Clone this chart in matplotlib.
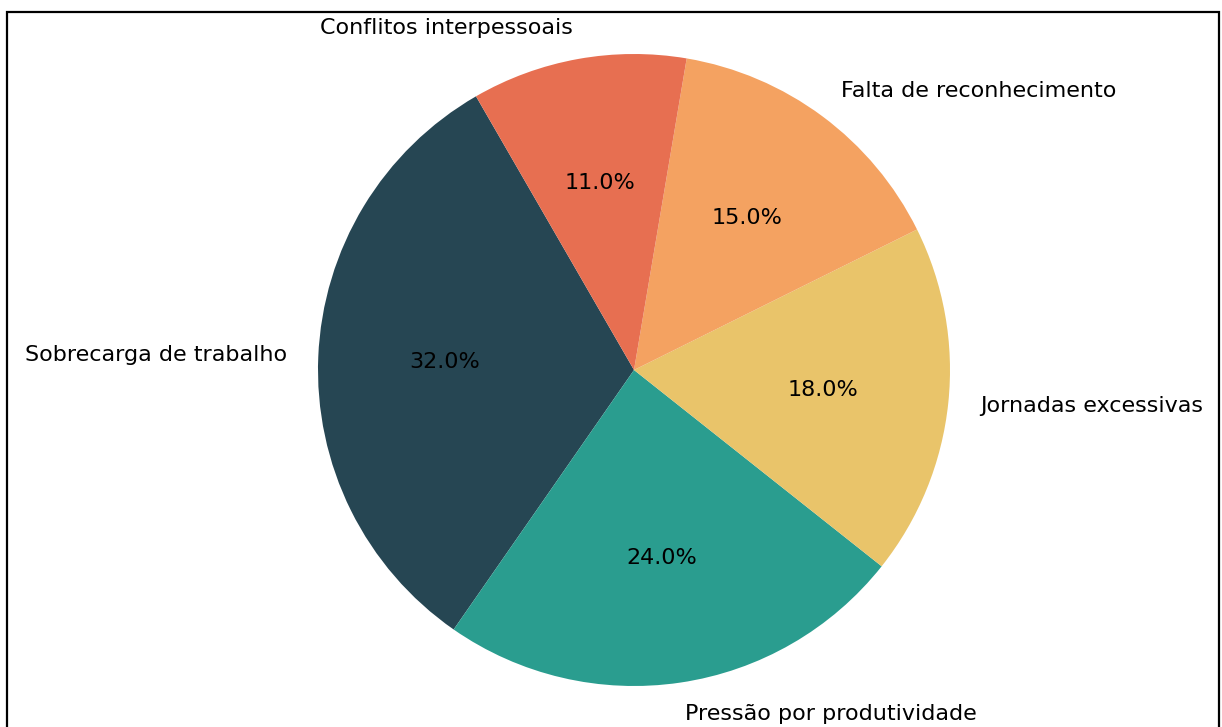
import matplotlib
matplotlib.use("Agg")
import matplotlib.pyplot as plt
from matplotlib.patches import Rectangle

labels = ["Sobrecarga de trabalho", "Pressão por produtividade", "Jornadas excessivas",
          "Falta de reconhecimento", "Conflitos interpessoais"]
shares = [32, 24, 18, 15, 11]
colors = ["#264653", "#2a9d8f", "#e9c46a", "#f4a261", "#e76f51"]

fig = plt.figure(figsize=(12.22, 7.27), dpi=100)
# pie centre ~ (634, 370) px, radius ~316 px -> axes spans +-1.25 data units
ax = fig.add_axes([239 / 1222, (727 - 765) / 727, 790 / 1222, 790 / 727])
ax.pie(shares, labels=labels, colors=colors, autopct="%1.1f%%", startangle=120,
       textprops={"fontsize": 16})
ax.set_xlim(-1.25, 1.25)
ax.set_ylim(-1.25, 1.25)

# thin black frame around the figure (bottom edge cut off in the reference)
fig.add_artist(Rectangle((7.5 / 1222, -0.05), 1211 / 1222, 1.05 - 11.5 / 727,
                         transform=fig.transFigure, fill=False,
                         edgecolor="black", linewidth=1.6))

fig.savefig("out.png", dpi=100)
